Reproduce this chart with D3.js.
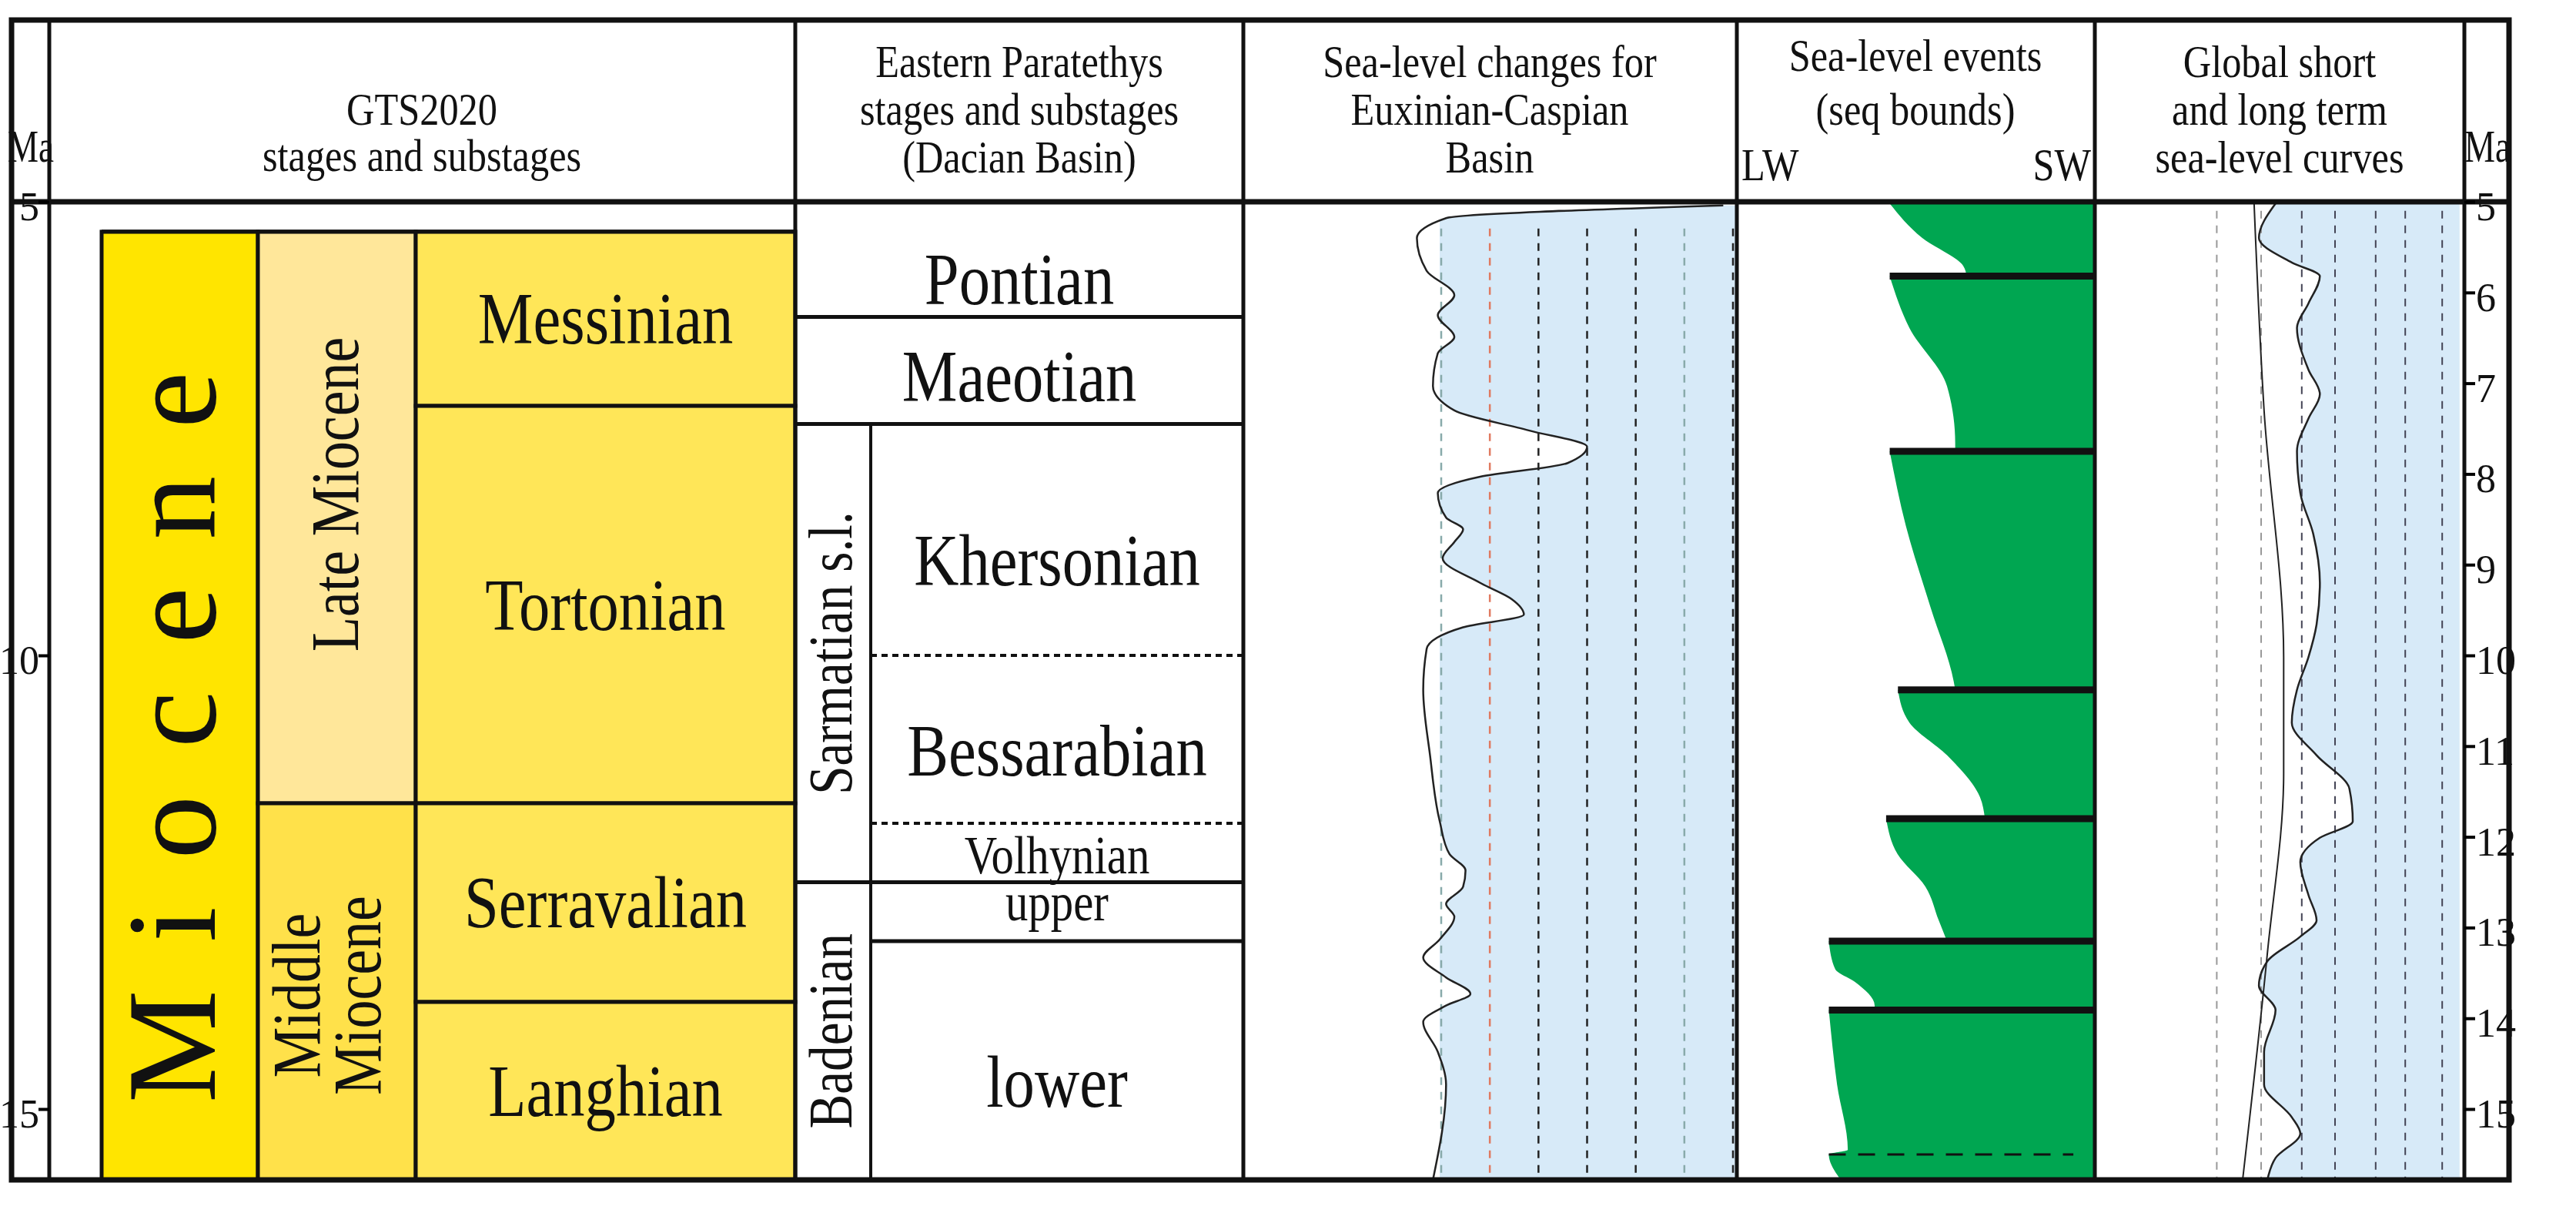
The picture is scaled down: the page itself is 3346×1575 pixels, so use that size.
<!DOCTYPE html>
<html><head><meta charset="utf-8">
<script src="https://cdn.jsdelivr.net/npm/d3@7"></script>
<style>body{margin:0;background:#fff}text{font-family:"Liberation Serif","DejaVu Serif",serif;fill:#111}</style>
</head><body><svg id="c" width="3346" height="1575"></svg>
<script>
// ---------- data ----------
const axisTicks = [5,6,7,8,9,10,11,12,13,14,15];
const leftTicks = [5,10,15];
const epochs = [{name:"Miocene", top:5.33, base:15.78}];
const subEpochs = [{name:"Late Miocene", top:5.33, base:11.63},{name:"Middle Miocene", top:11.63, base:15.78}];
const stages = [{name:"Messinian",top:5.33,base:7.25},{name:"Tortonian",top:7.25,base:11.63},{name:"Serravalian",top:11.63,base:13.82},{name:"Langhian",top:13.82,base:15.78}];
const paraBounds = [{pos:6.27,label:"6.10",dash:false,full:true},{pos:7.45,label:"7.60",dash:false,full:true},{pos:10.0,label:"~8.60",dash:true,full:false},{pos:11.85,label:null,dash:true,full:false},{pos:12.5,label:"12.65",dash:false,full:true},{pos:13.15,label:"13.30",dash:false,full:false}];
const paraStages = [{name:"Pontian",y:5.85},{name:"Maeotian",y:6.92},{name:"Khersonian",y:8.95},{name:"Bessarabian",y:11.05},{name:"Volhynian",y:12.2,small:true},{name:"upper",y:12.72,small:true},{name:"lower",y:14.7}];
const paraGroups = [{name:"Sarmatian s.l.",top:7.45,base:12.5},{name:"Badenian",top:12.5,base:15.78}];
const seaMa  = [5.04,5.18,5.4,5.76,6.03,6.25,6.49,6.67,7.03,7.3,7.52,7.7,7.88,8.03,8.21,8.48,8.61,8.75,8.93,9.2,9.38,9.55,9.69,9.93,10.38,11.1,11.83,12.19,12.37,12.55,12.74,12.88,13.13,13.33,13.55,13.73,13.86,14.04,14.37,14.73,15.78];
const seaLvl = [5.8,0.1,-0.5,-0.3,0.27,-0.07,0.27,-0.07,-0.17,0.27,1.8,3.0,2.6,0.8,-0.07,0.1,0.45,0.27,0.03,0.8,1.45,1.7,0.45,-0.3,-0.37,-0.23,-0.03,0.17,0.5,0.45,0.1,0.27,-0.03,-0.37,0.1,0.6,0.1,-0.37,-0.07,0.1,-0.17];
const seaGrid = [0,1,2,3,4,5,6];
const seqSegments = [
 [[5.02,42.7],[5.4,51.8],[5.71,63.3],[5.82,64.2]],
 [[5.82,42.7],[6.39,48.2],[7.03,58.7],[7.66,61],[7.75,61]],
 [[7.75,42.7],[8.57,47.2],[9.47,54.1],[10.29,60.6],[10.38,61]],
 [[10.38,45],[10.74,48.2],[11.1,58.7],[11.56,67.9],[11.8,69.3]],
 [[11.8,41.7],[12.19,44.9],[12.55,52.7],[12.92,56.4],[13.15,58.7]],
 [[13.15,25.7],[13.46,27.5],[13.6,33],[13.86,38.5],[13.91,38.5]],
 [[13.91,25.7],[14.73,28],[15.45,31],[15.5,25.7],[15.78,29]]
];
const seqDashed = [{ma:15.5,from:25.7,to:94}];
const gMa = [5.02,5.4,5.67,5.82,6.12,6.39,6.85,7.12,7.39,7.75,8.21,8.66,9.2,9.66,10.02,10.38,10.74,11.1,11.47,11.83,12.01,12.28,12.64,12.92,13.1,13.37,13.64,13.91,14.37,14.73,15.09,15.27,15.54,15.78];
const gShort = [48.9,44.4,53.3,60.9,57.8,54.7,57.8,60.9,57.8,54.7,55.6,59.1,60.9,60,57.8,54.7,53.3,60,68.9,69.8,60.9,55.6,57.8,60,55.6,46.7,44.4,48.9,45.8,45.8,53.3,55.6,48.9,46.7];
const gLongMa = [5.02,7.3,10.02,11.3,13.28,15.78];
const gLong = [43.1,45.8,51.1,51.1,46.7,40];
const gGrid = [33,45,56,65,76,84,94];

// ---------- layout ----------
const svg = d3.select("#c");
const L=15,R=3259,T=26,B=1532,HB=262;
const y = d3.scaleLinear().domain([5,15]).range([HB,1440]);
const col = {ma:[L,64],gts:[64,1033],mio:[132,335],sub:[335,540],stg:[540,1033],para:[1033,1615],sarm:[1033,1131],sea:[1615,2256],evt:[2256,2721],glob:[2721,3201],rax:[3201,R]};
const xSea = d3.scaleLinear().domain([0,6]).range([1872,2251]);
const xEvt = d3.scaleLinear().domain([0,100]).range([2256,2721]);
const xG = d3.scaleLinear().domain([0,100]).range([2721,3201]);
const bot = y.invert(B);
const SX=0.84;

function rect(x0,x1,y0,y1,fill,stroke,sw){svg.append("rect").attr("x",x0).attr("y",y0).attr("width",x1-x0).attr("height",y1-y0).attr("fill",fill).attr("stroke",stroke||"none").attr("stroke-width",sw||0);}
function line(x0,y0,x1,y1,w,dash,color){svg.append("line").attr("x1",x0).attr("y1",y0).attr("x2",x1).attr("y2",y1).attr("stroke",color||"#111").attr("stroke-width",w).attr("stroke-dasharray",dash||null);}
function txt(x,yy,s,size,opt={}){
  const sx=opt.sx||SX;
  const t=svg.append("text").attr("x",0).attr("y",0).attr("font-size",size).attr("text-anchor",opt.anchor||"middle").attr("dominant-baseline",opt.base||"auto").text(s);
  t.attr("transform",`translate(${x},${yy})`+(opt.rot?" rotate(-90)":"")+` scale(${sx},1)`);
  if(opt.ls)t.attr("letter-spacing",opt.ls);return t;}

// GTS blocks
epochs.forEach(d=>{rect(col.mio[0],col.mio[1],y(d.top),y(d.base),"#FFE500","#111",5);
  txt((col.mio[0]+col.mio[1])/2+45,(y(d.top)+y(d.base))/2+10,"Miocene",165,{rot:true,ls:62,sx:1});});
const subCol={"Late Miocene":"#FFE79A","Middle Miocene":"#FFE14A"};
subEpochs.forEach(d=>{rect(col.sub[0],col.sub[1],y(d.top),y(d.base),subCol[d.name],"#111",5);});
txt(465,(y(5.33)+y(11.63))/2-30,"Late Miocene",88,{rot:true});
txt(415,(y(11.63)+y(15.78))/2+5,"Middle",88,{rot:true});
txt(494,(y(11.63)+y(15.78))/2+5,"Miocene",88,{rot:true});
stages.forEach(d=>{rect(col.stg[0],col.stg[1],y(d.top),y(d.base),"#FFE658","#111",5);
  txt((col.stg[0]+col.stg[1])/2,(y(d.top)+y(d.base))/2,d.name,96,{base:"central"});});
line(col.mio[0],y(5.33),col.stg[1],y(5.33),5);

// Paratethys
paraBounds.forEach(d=>{const x0=d.full?col.para[0]:col.sarm[1];
  line(x0,y(d.pos),col.para[1],y(d.pos),d.dash?4:5,d.dash?"8,6":null);
  line(col.para[1]-8,y(d.pos),col.para[1]+10,y(d.pos),4);
  if(d.label) txt(col.para[1]+14,y(d.pos)+10,d.label,48,{anchor:"start",base:"central"});});
txt(col.para[1]+20,y(15.6),"15.97",48,{anchor:"start",base:"central"});
paraGroups.forEach(d=>{rect(col.sarm[0],col.sarm[1],y(d.top),y(Math.min(d.base,bot)),"none","#111",4);
  txt(1106,(y(d.top)+y(Math.min(d.base,bot)))/2,d.name,80,{rot:true});});
paraStages.forEach(d=>{const cx=d.y<7.45?(col.para[0]+col.para[1])/2:(col.sarm[1]+col.para[1])/2;
  txt(cx,y(d.y),d.name,d.small?70:96,{base:"central"});});

// Sea-level column
rect(xSea(0)-2,col.sea[1],y(5.0),B,"#D7EAF8");
const seaPts = seaMa.map((m,i)=>[m,seaLvl[i]]);
const area = d3.area().y(d=>y(d[0])).x0(col.sea[0]).x1(d=>xSea(d[1])).curve(d3.curveMonotoneY);
svg.append("path").attr("d",area(seaPts)).attr("fill","#fff");
rect(col.sea[0],col.sea[1],y(5.0),y(5.04),"#fff");
seaGrid.forEach(g=>{line(xSea(g),y(5.04)+30,xSea(g),B,2.5,"10,9",g===1?"#E07a60":(g===0||g===5)?"#8aa":"#222");});
svg.append("path").attr("d",d3.line().y(d=>y(d[0])).x(d=>xSea(d[1])).curve(d3.curveMonotoneY)(seaPts)).attr("fill","none").attr("stroke","#222").attr("stroke-width",2.5);

// Events column
seqSegments.forEach(seg=>{
  const a=d3.area().y(d=>y(d[0])).x0(d=>xEvt(d[1])).x1(xEvt(100)).curve(d3.curveMonotoneY);
  svg.append("path").attr("d",a(seg)).attr("fill","#00A651");
});
seqSegments.slice(1).forEach(seg=>{line(xEvt(seg[0][1]),y(seg[0][0]),xEvt(100),y(seg[0][0]),9);});
seqDashed.forEach(d=>line(xEvt(d.from),y(d.ma),xEvt(d.to),y(d.ma),3,"22,16"));
// global column
const gPts=gMa.map((m,i)=>[m,gShort[i]]);
svg.append("path").attr("d",d3.area().y(d=>y(d[0])).x0(d=>xG(d[1])).x1(xG(98.7)).curve(d3.curveMonotoneY)(gPts)).attr("fill","#D7EAF8");
gGrid.forEach(g=>line(xG(g),y(5.1),xG(g),B,2,"10,9",g<50?"#999":"#445"));
svg.append("path").attr("d",d3.line().y(d=>y(d[0])).x(d=>xG(d[1])).curve(d3.curveMonotoneY)(gPts)).attr("fill","none").attr("stroke","#222").attr("stroke-width",2.5);
svg.append("path").attr("d",d3.line().y(d=>y(d[0])).x(d=>xG(d[1])).curve(d3.curveMonotoneY)(gLongMa.map((m,i)=>[m,gLong[i]]))).attr("fill","none").attr("stroke","#222").attr("stroke-width",2);

// frame & column lines
[col.ma[1],col.gts[1],col.para[1],col.sea[1],col.evt[1],col.glob[1]].forEach(x=>line(x,T,x,B,5));
line(L,HB,R,HB,7);
rect(L,R,T,B,"none","#111",7);

// axes
const la=d3.axisLeft(y).tickValues(leftTicks).tickSize(14).tickFormat(d3.format("d"));
svg.append("g").attr("transform",`translate(${col.ma[1]},0)`).call(la).call(g=>{g.select(".domain").remove();g.selectAll("line").attr("stroke-width",4);g.selectAll("text").attr("font-size",52).attr("font-family","Liberation Serif").attr("dx",4).attr("dy","0.45em");});
const ra=d3.axisRight(y).tickValues(axisTicks).tickSize(14).tickFormat(d3.format("d"));
svg.append("g").attr("transform",`translate(${col.glob[1]},0)`).call(ra).call(g=>{g.select(".domain").remove();g.selectAll("line").attr("stroke-width",4);g.selectAll("text").attr("font-size",52).attr("font-family","Liberation Serif").attr("dx",-2).attr("dy","0.45em");});

// headers
const hs=60;
txt(40,210,"Ma",hs,{sx:0.75});
txt(3231,210,"Ma",hs,{sx:0.75});
txt(548,162,"GTS2020",hs);txt(548,222,"stages and substages",hs);
txt(1324,100,"Eastern Paratethys",hs);txt(1324,162,"stages and substages",hs);txt(1324,224,"(Dacian Basin)",hs);
txt(1935,100,"Sea-level changes for",hs);txt(1935,162,"Euxinian-Caspian",hs);txt(1935,224,"Basin",hs);
txt(2488,92,"Sea-level events",hs);txt(2488,162,"(seq bounds)",hs);txt(2262,234,"LW",hs,{anchor:"start"});txt(2716,234,"SW",hs,{anchor:"end"});
txt(2961,100,"Global short",hs);txt(2961,162,"and long term",hs);txt(2961,224,"sea-level curves",hs);
</script></body></html>
